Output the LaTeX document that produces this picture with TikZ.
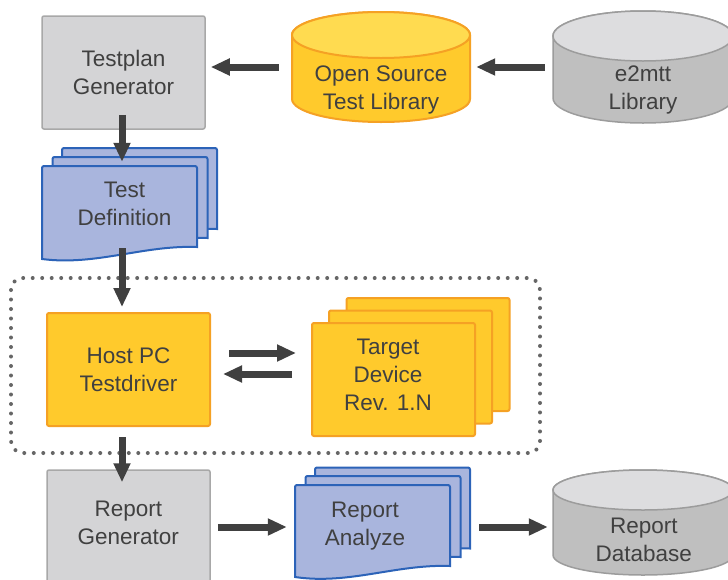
\documentclass[tikz,border=0pt]{standalone}
\usepackage{fontspec}
\setmainfont{Liberation Sans}
\usetikzlibrary{arrows.meta,calc}
\definecolor{txtc}{HTML}{404040}
\definecolor{arrowc}{HTML}{404040}
\definecolor{grayf}{HTML}{D4D4D6}
\definecolor{grayb}{HTML}{A8A8A8}
\definecolor{yelf}{HTML}{FFCA2C}
\definecolor{yeltop}{HTML}{FFDB50}
\definecolor{yelb}{HTML}{F5A124}
\definecolor{bluef}{HTML}{A9B5DD}
\definecolor{blueb}{HTML}{2C63B8}
\definecolor{cylbody}{HTML}{BFBFBF}
\definecolor{cyltop}{HTML}{DDDDDF}
\definecolor{cylb}{HTML}{9C9C9C}
\definecolor{dotc}{HTML}{666666}
\newcommand{\Cyl}[7]{%
  \path[#6] (#1-#2,#3+#5) -- (#1-#2,#4-#5) arc[start angle=180,end angle=360,x radius=#2pt,y radius=#5pt] -- (#1+#2,#3+#5) arc[start angle=0,end angle=180,x radius=#2pt,y radius=#5pt] -- cycle;
  \path[#7] (#1,#3+#5) ellipse[x radius=#2pt,y radius=#5pt];}
\newcommand{\DocSheet}[3]{%
  \path[docsheet] (#1,#2+#3) [rounded corners=2pt] -- (#1,#2) -- (#1+155,#2) [sharp corners] -- (#1+155,#2+81) .. controls (#1+101,#2+79) and (#1+54,#2+100) .. (#1,#2+#3) -- cycle;}
\begin{document}
\begin{tikzpicture}[x=1pt,y=-1pt,
  lbl/.style={font=\fontsize{22.5}{28}\selectfont, text=txtc, align=center},
  box/.style={lbl, rounded corners=2pt, minimum width=163pt, minimum height=113pt, inner sep=0pt},
  graybox/.style={box, draw=grayb, fill=grayf, line width=1.5pt},
  yelbox/.style={box, draw=yelb, fill=yelf, line width=2pt},
  holder/.style={inner sep=0pt, draw=none},
  txt/.style={lbl, inner sep=0pt},
  docsheet/.style={draw=blueb, fill=bluef, line width=2pt},
  yelsheet/.style={draw=yelb, fill=yelf, line width=2pt, rounded corners=2pt},
  yelcylbody/.style={draw=yelb, fill=yelf, line width=2pt},
  yelcyltop/.style={draw=yelb, fill=yeltop, line width=2pt},
  graycylbody/.style={draw=cylb, fill=cylbody, line width=1.5pt},
  graycyltop/.style={draw=cylb, fill=cyltop, line width=1.5pt},
  dotframe/.style={draw=dotc, line width=4pt, dash pattern=on 0pt off 9.5pt, line cap=round, rounded corners=12pt},
  bigarrow/.style={draw=arrowc, line width=7pt, -{Triangle[length=19pt,width=16pt]}}
]
\useasboundingbox (0,0) rectangle (728,579);
\fill[white] (0,0) rectangle (728,579);

% dotted frame
\path[dotframe] (11,278) rectangle (540,453);

% top row
\node[graybox] (tp) at (123.5,72.5) {Testplan\\Generator};
\Cyl{381}{89}{12}{122}{23}{yelcylbody}{yelcyltop}
\node[holder, minimum width=178pt, minimum height=110pt] (os) at (381,67) {};
\node[txt] (ostxt) at (381,90.2) {Open Source\\Test Library};
\Cyl{643}{90}{11}{123}{25}{graycylbody}{graycyltop}
\node[holder, minimum width=180pt, minimum height=112pt] (e2) at (643,67) {};
\node[txt] (e2txt) at (643,90.2) {e2mtt\\Library};

% test definition stack
\DocSheet{62}{148}{93}
\DocSheet{52.5}{157}{93}
\DocSheet{42}{166}{93}
\node[holder, minimum width=155pt, minimum height=93pt] (td) at (119.5,212.5) {};
\node[txt] (tdtxt) at (124.5,204) {Test\\Definition};

% host and target
\node[yelbox] (host) at (128.5,369.5) {Host PC\\Testdriver};
\path[yelsheet] (346.5,298) rectangle (509.5,411);
\path[yelsheet] (329,310.5) rectangle (492,423.5);
\node[yelbox] (tgt) at (393.5,379.5) {};
\node[txt] (tgttxt) at (388,375) {Target\\Device\\Rev. 1.N};

% bottom row
\node[graybox] (rg) at (128.5,526.5) {};
\node[txt] (rgtxt) at (128.3,523.3) {Report\\Generator};
\DocSheet{315}{467.5}{92}
\DocSheet{305.5}{476}{92}
\DocSheet{295}{485}{92}
\node[holder, minimum width=155pt, minimum height=92pt] (ra) at (372.5,531) {};
\node[txt] (ratxt) at (365,526.2) {Report\\Analyze};
\Cyl{643}{90}{470}{575}{20}{graycylbody}{graycyltop}
\node[holder, minimum width=180pt, minimum height=105pt] (rdb) at (643,522.5) {};
\node[txt] (rdbtxt) at (643.8,540.3) {Report\\Database};

% connectors
\draw[bigarrow] ($(os.west)+(-13,0)$) -- ($(os.west -| tp.east)+(5,0)$);
\draw[bigarrow] ($(e2.west)+(-8,0)$) -- ($(e2.west -| os.east)+(6,0)$);
\draw[bigarrow] ($(tp.south)+(-1.5,-15)$) -- ($(td.north)+(2.5,-4)$);
\draw[bigarrow] ($(td.south)+(2.5,-11)$) -- ($(host.north)+(-6.5,-5)$);
\draw[bigarrow] ($(host.south)+(-6.5,10)$) -- ($(rg.north)+(-6.5,13)$);
\draw[bigarrow] ($(host.east)+(18,-16.5)$) -- ($(tgt.west)+(-15,-26.5)$);
\draw[bigarrow] ($(tgt.west)+(-19,-5.5)$) -- ($(host.east)+(12,4.5)$);
\draw[bigarrow] ($(rg.east)+(7,0.5)$) -- ($(ra.west)+(-8,-4)$);
\draw[bigarrow] ($(ra.east)+(29,-4)$) -- ($(rdb.west)+(-5,4.5)$);
\end{tikzpicture}
\end{document}
